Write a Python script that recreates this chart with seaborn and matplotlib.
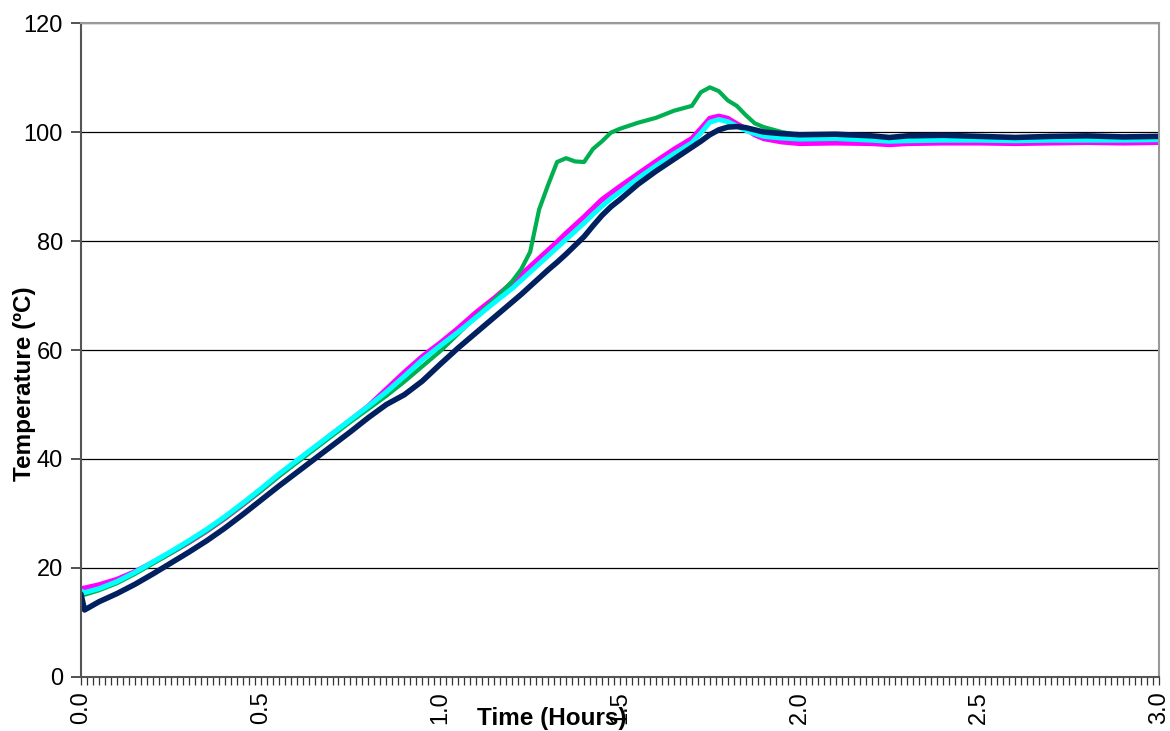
import matplotlib
matplotlib.use("Agg")
import matplotlib.pyplot as plt
from matplotlib.ticker import MultipleLocator, FormatStrFormatter
import seaborn as sns
import pandas as pd

# time in hours (shared by all series)
hours = [0.0, 0.01, 0.05, 0.1, 0.15, 0.2, 0.25, 0.3, 0.35, 0.4, 0.45, 0.5,
         0.55, 0.6, 0.65, 0.7, 0.75, 0.8, 0.85, 0.9, 0.95, 1.0, 1.05, 1.1,
         1.15, 1.2, 1.225, 1.25, 1.275, 1.3, 1.325, 1.35, 1.375, 1.4, 1.425,
         1.45, 1.475, 1.5, 1.55, 1.6, 1.65, 1.7, 1.725, 1.75, 1.775, 1.8,
         1.825, 1.85, 1.875, 1.9, 1.95, 2.0, 2.1, 2.2, 2.25, 2.3, 2.4, 2.5,
         2.6, 2.7, 2.8, 2.9, 3.0]

magenta_temp = [16.2, 16.3, 16.9, 17.9, 19.3, 21.0, 22.8, 24.7, 26.8, 29.1, 31.6, 34.2,
                36.9, 39.5, 42.0, 44.6, 47.1, 49.7, 52.8, 55.9, 58.8, 61.3, 64.0, 66.9,
                69.5, 72.3, 73.8, 75.3, 76.8, 78.3, 79.8, 81.4, 82.9, 84.4, 86.0,
                87.6, 88.8, 90.0, 92.3, 94.6, 96.8, 98.8, 100.6, 102.5, 102.9, 102.5,
                101.5, 100.6, 99.5, 98.8, 98.2, 97.9, 98.0, 97.9, 97.7, 97.9, 98.0, 98.0,
                97.9, 98.0, 98.1, 98.0, 98.1]

cyan_temp = [15.8, 15.5, 16.2, 17.5, 19.2, 21.1, 23.0, 25.0, 27.1, 29.4, 31.9, 34.5,
             37.2, 39.7, 42.2, 44.7, 47.2, 49.7, 52.3, 55.2, 58.2, 60.8, 63.3, 66.0,
             68.7, 71.3, 72.8, 74.3, 75.8, 77.3, 78.8, 80.3, 81.8, 83.3, 84.9,
             86.4, 87.8, 89.0, 91.5, 93.8, 96.0, 98.0, 99.8, 101.8, 102.3, 101.9,
             101.1, 100.3, 99.7, 99.2, 98.9, 98.7, 98.8, 98.5, 98.3, 98.4, 98.5, 98.5,
             98.4, 98.5, 98.5, 98.5, 98.6]

green_temp = [15.0, 15.1, 15.9, 17.2, 18.9, 20.8, 22.7, 24.7, 26.8, 29.1, 31.6, 34.1,
              36.8, 39.3, 41.8, 44.3, 46.8, 49.2, 51.6, 54.2, 57.0, 59.8, 63.0, 66.2,
              69.2, 72.6, 74.8, 78.0, 85.8, 90.3, 94.5, 95.2, 94.6, 94.5, 96.9,
              98.3, 99.9, 100.6, 101.7, 102.6, 103.9, 104.8, 107.3, 108.2, 107.5, 105.8,
              104.8, 103.1, 101.6, 100.9, 100.0, 99.4, 99.3, 98.9, 98.7, 98.9, 99.0, 99.0,
              98.8, 98.9, 99.0, 98.9, 98.9]

navy_temp = [15.2, 12.3, 13.8, 15.3, 17.0, 18.9, 20.9, 22.9, 25.0, 27.3, 29.8, 32.4,
             35.0, 37.5, 40.0, 42.5, 45.0, 47.6, 50.0, 51.8, 54.3, 57.4, 60.4, 63.2,
             66.0, 68.8, 70.2, 71.7, 73.2, 74.7, 76.1, 77.6, 79.2, 80.8, 82.8,
             84.7, 86.3, 87.6, 90.4, 92.8, 95.0, 97.2, 98.3, 99.5, 100.4, 100.9,
             101.0, 100.8, 100.4, 100.0, 99.7, 99.5, 99.6, 99.3, 99.0, 99.3, 99.4, 99.2,
             99.0, 99.2, 99.3, 99.1, 99.2]

series = [
    ("magenta", magenta_temp, "#FF00FF", 3.8),
    ("green", green_temp, "#00B050", 3.0),
    ("cyan", cyan_temp, "#00FFFF", 3.6),
    ("navy", navy_temp, "#002060", 4.0),
]

sns.set_theme(style="white")
plt.rcParams["font.family"] = ["Liberation Sans", "DejaVu Sans"]
plt.rcParams["text.color"] = "black"
plt.rcParams["xtick.color"] = "black"
plt.rcParams["ytick.color"] = "black"

fig = plt.figure(figsize=(11.7, 7.31), dpi=100)
ax = fig.add_axes([0.0692, 0.0739, 0.9214, 0.8946])

for navn, verdier, farge, lw in series:
    df = pd.DataFrame({"Time": hours, "Temp": verdier})
    sns.lineplot(data=df, x="Time", y="Temp", ax=ax, color=farge,
                 linewidth=lw, estimator=None, sort=False)

ax.set_xlim(0, 3.0)
ax.set_ylim(0, 120)
ax.yaxis.set_major_locator(MultipleLocator(20))
ax.xaxis.set_major_locator(MultipleLocator(0.5))
ax.xaxis.set_minor_locator(MultipleLocator(1 / 60))
ax.xaxis.set_major_formatter(FormatStrFormatter("%.1f"))

ax.grid(axis="y", color="black", linewidth=0.9)
ax.set_axisbelow(True)

for side in ["top", "right"]:
    ax.spines[side].set_color("#999999")
    ax.spines[side].set_linewidth(1.5)
for side in ["left", "bottom"]:
    ax.spines[side].set_color("#555555")
    ax.spines[side].set_linewidth(1.5)

ax.tick_params(axis="y", which="major", direction="out", length=7, width=1.2,
               color="#333333", labelcolor="black", labelsize=17, pad=6, left=True)
ax.tick_params(axis="x", which="both", direction="out", length=6, width=0.9,
               color="#333333", bottom=True)
ax.tick_params(axis="x", which="major", labelsize=17, labelcolor="black",
               labelrotation=90, pad=4)

ax.set_xlabel("")
ax.set_ylabel("")
ax.text(0.437, -0.063, "Time (Hours)", transform=ax.transAxes, ha="center",
        va="center", fontsize=17.5, fontweight="bold", color="black")
ax.text(-0.052, 0.448, "Temperature (ºC)", transform=ax.transAxes, ha="center",
        va="center", rotation=90, fontsize=17.5, fontweight="bold", color="black")

fig.savefig("out.png", dpi=100)
